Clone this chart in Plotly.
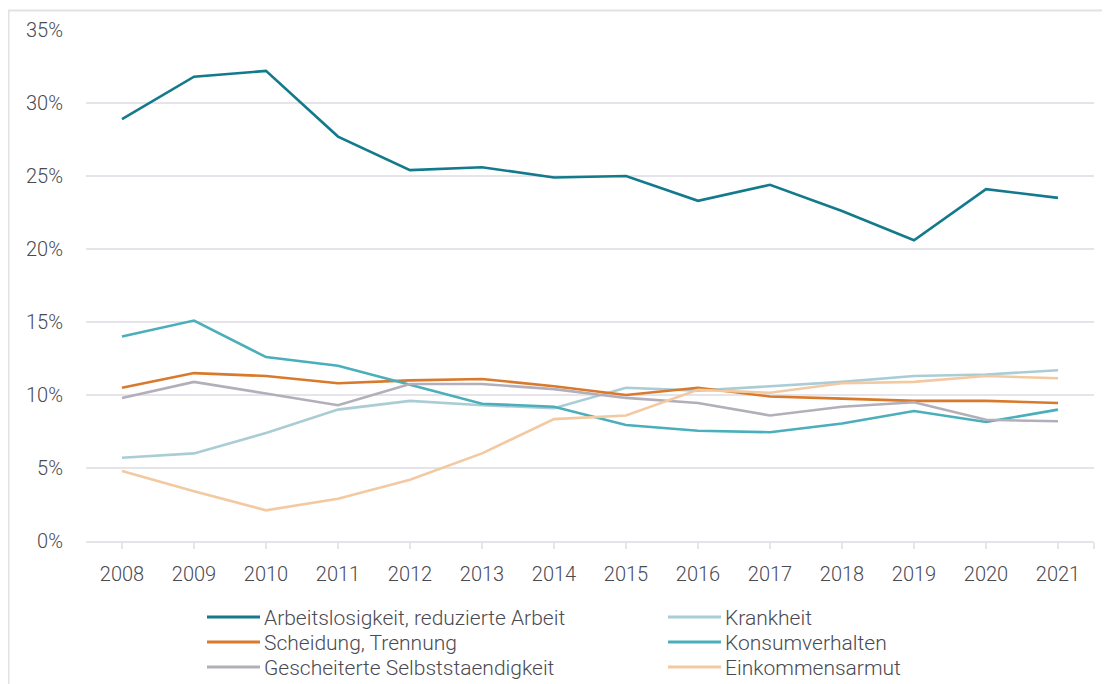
import plotly.graph_objects as go

years = [2008, 2009, 2010, 2011, 2012, 2013, 2014, 2015, 2016, 2017, 2018, 2019, 2020, 2021]
year_labels = [str(y) for y in years]

arbeitslosigkeit = [28.9, 31.8, 32.2, 27.7, 25.4, 25.6, 24.9, 25.0, 23.3, 24.4, 22.6, 20.6, 24.1, 23.5]
krankheit = [5.7, 6.0, 7.4, 9.0, 9.6, 9.3, 9.1, 10.5, 10.3, 10.6, 10.9, 11.3, 11.4, 11.7]
scheidung = [10.5, 11.5, 11.3, 10.8, 11.0, 11.1, 10.6, 10.0, 10.5, 9.9, 9.75, 9.6, 9.6, 9.45]
konsumverhalten = [14.0, 15.1, 12.6, 12.0, 10.7, 9.4, 9.2, 7.95, 7.55, 7.45, 8.05, 8.9, 8.15, 9.0]
gescheitert = [9.8, 10.9, 10.1, 9.3, 10.75, 10.75, 10.4, 9.8, 9.45, 8.6, 9.2, 9.5, 8.3, 8.2]
einkommensarmut = [4.8, 3.4, 2.1, 2.9, 4.2, 6.0, 8.35, 8.6, 10.35, 10.15, 10.8, 10.9, 11.3, 11.15]

y_ticks = [0, 5, 10, 15, 20, 25, 30, 35]
y_tick_labels = ["0%", "5%", "10%", "15%", "20%", "25%", "30%", "35%"]

series = [
    ("Arbeitslosigkeit, reduzierte Arbeit", arbeitslosigkeit, "#137a8c"),
    ("Krankheit", krankheit, "#aacdd5"),
    ("Scheidung, Trennung", scheidung, "#d9792b"),
    ("Konsumverhalten", konsumverhalten, "#4aafba"),
    ("Gescheiterte Selbststaendigkeit", gescheitert, "#b3afba"),
    ("Einkommensarmut", einkommensarmut, "#f3c9a1"),
]

FONT = "Roboto"
TEXT = "#4a4a52"
GRID = "#e4e4ea"
FS = 20

# the page places the figure 8px from the top-left corner
W, H = 1102, 676
ML, MR, MT, MB = 78, 16, 22, 143
PW, PH = W - ML - MR, H - MT - MB


def px_x(px):
    return (px - ML) / PW


def px_y(py):
    return (H - MB - py) / PH


fig = go.Figure()
for name, vals, color in series:
    fig.add_trace(go.Scatter(
        x=years, y=vals, name=name, mode="lines",
        line=dict(color=color, width=2.6), showlegend=False,
    ))

shapes = [
    dict(type="rect", xref="paper", yref="paper",
         x0=px_x(0.5), x1=px_x(1130), y0=px_y(720), y1=px_y(2.5),
         line=dict(color="#e2e2e6", width=2), layer="below"),
]
annotations = []
col_x = [199, 660]
row_y = [609, 634, 659]
for i, (name, vals, color) in enumerate(series):
    cx = col_x[i % 2]
    ry = row_y[i // 2]
    shapes.append(dict(type="line", xref="paper", yref="paper",
                       x0=px_x(cx), x1=px_x(cx + 53), y0=px_y(ry), y1=px_y(ry),
                       line=dict(color=color, width=3)))
    annotations.append(dict(xref="paper", yref="paper", x=px_x(cx + 55), y=px_y(ry + 1),
                            text=name, showarrow=False, xanchor="left", yanchor="middle",
                            font=dict(family=FONT, size=FS + 1, color=TEXT, weight=300)))

fig.update_layout(
    width=W, height=H,
    margin=dict(l=ML, r=MR, t=MT, b=MB),
    paper_bgcolor="white", plot_bgcolor="white",
    font=dict(family=FONT, color=TEXT, size=FS, weight=300),
    showlegend=False,
    xaxis=dict(
        range=[2007.5, 2021.5],
        tickvals=years + [2021.5], ticktext=year_labels + [""],
        showgrid=False, zeroline=False,
        showline=True, linecolor=GRID, linewidth=2,
        ticks="outside", ticklen=6, tickwidth=2, tickcolor=GRID,
        ticklabelstandoff=8, automargin=False,
        tickfont=dict(family=FONT, size=FS, color=TEXT, weight=300),
    ),
    yaxis=dict(
        range=[0, 35],
        tickvals=y_ticks, ticktext=y_tick_labels,
        showgrid=True, gridcolor=GRID, gridwidth=2,
        zeroline=False, showline=False, ticks="",
        ticklabelstandoff=22, automargin=False,
        tickfont=dict(family=FONT, size=FS, color=TEXT, weight=300),
    ),
    shapes=shapes,
    annotations=annotations,
)

fig.write_html("out.html")
